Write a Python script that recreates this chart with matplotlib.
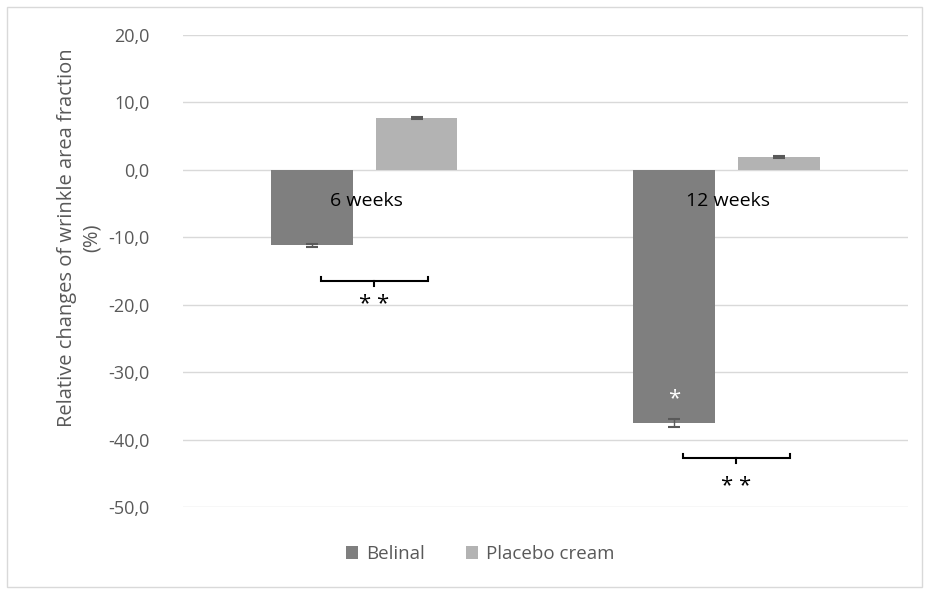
import matplotlib.pyplot as plt
import numpy as np

plt.rcParams['font.family'] = ['Open Sans', 'DejaVu Sans']

categories = ["6 weeks", "12 weeks"]
belinal = [-11.2, -37.5]
belinal_err = [0.2, 0.6]
placebo = [7.7, 1.9]
placebo_err = [0.15, 0.15]
bracket_y = [-16.5, -42.7]
star_y = [-20.0, -47.0]
ticks = [20, 10, 0, -10, -20, -30, -40, -50]

c_belinal = "#7f7f7f"
c_placebo = "#b3b3b3"
c_text = "#595959"

fig = plt.figure(figsize=(9.29, 5.92), dpi=100)
ax = fig.add_axes([0.197, 0.1436, 0.78, 0.7974])

x = np.arange(len(categories))
w = 0.226
gap = 0.063
xb = x - (w + gap) / 2
xp = x + (w + gap) / 2

ax.bar(xb, belinal, w, color=c_belinal, label="Belinal", zorder=2)
ax.bar(xp, placebo, w, color=c_placebo, label="Placebo cream", zorder=2)
ax.errorbar(xb, belinal, yerr=belinal_err, fmt="none", ecolor=c_text,
            elinewidth=1, capsize=4, capthick=1.5, zorder=3)
ax.errorbar(xp, placebo, yerr=placebo_err, fmt="none", ecolor=c_text,
            elinewidth=1, capsize=4, capthick=1.5, zorder=3)

ax.set_xlim(-0.5, 1.5)
ax.set_ylim(-50, 20)
ax.set_yticks(ticks)
ax.set_yticklabels([f"{t:.1f}".replace(".", ",") for t in ticks],
                   color=c_text, fontsize=13)
ax.tick_params(axis="y", length=0, pad=24)
ax.set_xticks([])
ax.grid(axis="y", color="#d9d9d9", linewidth=1, zorder=0)
ax.set_axisbelow(True)
for s in ax.spines.values():
    s.set_visible(False)

# category labels sit just under the zero line
for xi, lab in zip(x, categories):
    ax.text(xi + 0.005, -4.6, lab, ha="center", va="center", fontsize=14,
            color="black", zorder=4)

# significance brackets
for xi, by, sy in zip(x, bracket_y, star_y):
    x0, x1 = xi - 0.12, xi + 0.175
    xm = (x0 + x1) / 2
    ax.plot([x0, x0, x1, x1], [by + 0.6, by, by, by + 0.6], color="black",
            lw=1.5, solid_joinstyle="miter", zorder=4)
    ax.plot([xm, xm], [by, by - 0.8], color="black", lw=1.5, zorder=4)
    ax.text(xm, sy, "* *", ha="center", va="center", fontsize=16, zorder=4)

ax.text(xb[1], belinal[1] + 3.6, "*", ha="center", va="center",
        fontsize=16, color="white", zorder=4)

ax.set_ylabel("Relative changes of wrinkle area fraction\n(%)",
              color=c_text, fontsize=14.5, linespacing=1.35)
ax.yaxis.set_label_coords(-0.112, 0.57)

leg = ax.legend(loc="center", bbox_to_anchor=(0.41, -0.1), ncol=2,
                frameon=False, fontsize=13.5, handlelength=0.65,
                handleheight=0.65, columnspacing=2.2, handletextpad=0.4)
for t in leg.get_texts():
    t.set_color(c_text)

fig.patches.append(plt.Rectangle((0.008, 0.008), 0.984, 0.981,
                                 transform=fig.transFigure, fill=False,
                                 edgecolor="#d9d9d9", lw=1))

fig.savefig("out.png", dpi=100)
